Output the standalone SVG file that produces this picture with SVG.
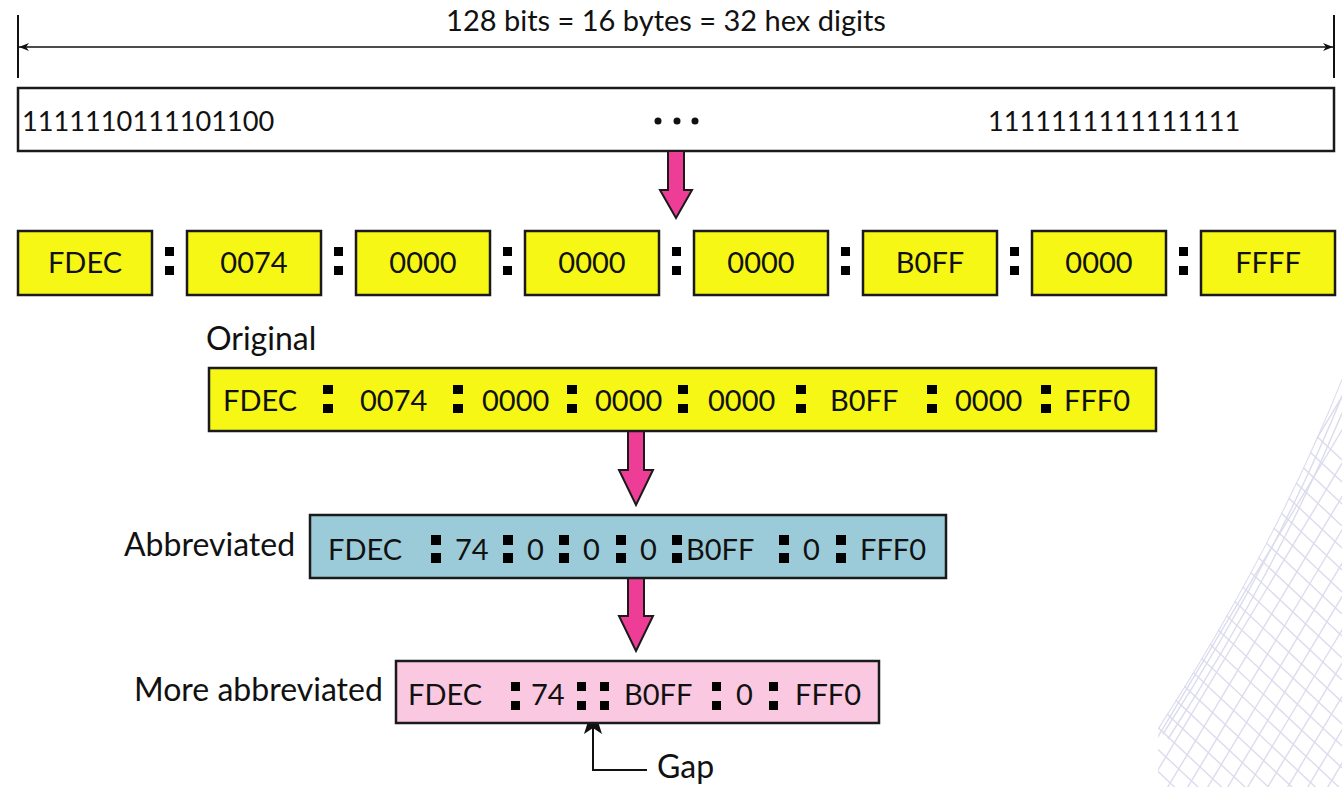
<svg xmlns="http://www.w3.org/2000/svg" width="1342" height="787" viewBox="0 0 1342 787">
<defs>
<style>
.t{font-family:Lato,"Liberation Sans",sans-serif;font-size:29px;fill:#111}
.l{font-size:32px}
.d{font-size:27.2px}
.c{text-anchor:middle}
.box{stroke:#1a1a1a;stroke-width:2.5}
.y{fill:#f7f716}
.b{fill:#9bcbd8}
.p{fill:#fbc8e2}
.arr{fill:#ee3d96;stroke:#1a1a1a;stroke-width:2}
.mesh line,.mesh path{stroke:#dcdcee;stroke-width:1.4;fill:none}
.col{fill:#000}
</style>
<marker id="ah" viewBox="0 0 10 10" refX="10" refY="5" markerWidth="10" markerHeight="10" markerUnits="userSpaceOnUse" orient="auto-start-reverse">
<path d="M0,1 L10,5 L0,9 L3,5 Z" fill="#111"/>
</marker>
<clipPath id="mc"><path d="M1158,787 L1158,728 C1215,640 1285,520 1342,378 L1342,787 Z"/></clipPath>
</defs>
<rect width="1342" height="787" fill="#fff"/>
<g id="mesh" class="mesh" clip-path="url(#mc)">
<line x1="1000" y1="800" x2="1300" y2="300"/><line x1="1020" y1="800" x2="1320" y2="300"/><line x1="1040" y1="800" x2="1340" y2="300"/><line x1="1060" y1="800" x2="1360" y2="300"/><line x1="1080" y1="800" x2="1380" y2="300"/><line x1="1100" y1="800" x2="1400" y2="300"/><line x1="1120" y1="800" x2="1420" y2="300"/><line x1="1140" y1="800" x2="1440" y2="300"/><line x1="1160" y1="800" x2="1460" y2="300"/><line x1="1180" y1="800" x2="1480" y2="300"/><line x1="1200" y1="800" x2="1500" y2="300"/><line x1="1220" y1="800" x2="1520" y2="300"/><line x1="1240" y1="800" x2="1540" y2="300"/><line x1="1260" y1="800" x2="1560" y2="300"/><line x1="1280" y1="800" x2="1580" y2="300"/><line x1="1300" y1="800" x2="1600" y2="300"/><line x1="1320" y1="800" x2="1620" y2="300"/>
<line x1="1150" y1="280" x2="1342" y2="460"/><line x1="1150" y1="302" x2="1342" y2="482"/><line x1="1150" y1="324" x2="1342" y2="504"/><line x1="1150" y1="346" x2="1342" y2="526"/><line x1="1150" y1="368" x2="1342" y2="548"/><line x1="1150" y1="390" x2="1342" y2="570"/><line x1="1150" y1="412" x2="1342" y2="592"/><line x1="1150" y1="434" x2="1342" y2="614"/><line x1="1150" y1="456" x2="1342" y2="636"/><line x1="1150" y1="478" x2="1342" y2="658"/><line x1="1150" y1="500" x2="1342" y2="680"/><line x1="1150" y1="522" x2="1342" y2="702"/><line x1="1150" y1="544" x2="1342" y2="724"/><line x1="1150" y1="566" x2="1342" y2="746"/><line x1="1150" y1="588" x2="1342" y2="768"/><line x1="1150" y1="610" x2="1342" y2="790"/><line x1="1150" y1="632" x2="1342" y2="812"/><line x1="1150" y1="654" x2="1342" y2="834"/><line x1="1150" y1="676" x2="1342" y2="856"/><line x1="1150" y1="698" x2="1342" y2="878"/><line x1="1150" y1="720" x2="1342" y2="900"/><line x1="1150" y1="742" x2="1342" y2="922"/><line x1="1150" y1="764" x2="1342" y2="944"/>
<path d="M1158,729 C1215,641 1285,521 1342,379"/>
<path d="M1163,734 C1220,646 1290,526 1347,384"/>
<path d="M1168,739 C1225,651 1295,531 1352,389"/>
</g>
<g id="dimension">
<line x1="18" y1="15" x2="18" y2="78" stroke="#111" stroke-width="2"/>
<line x1="1334" y1="15" x2="1334" y2="78" stroke="#111" stroke-width="2"/>
<line x1="19" y1="47" x2="1333" y2="47" stroke="#111" stroke-width="1.5" marker-start="url(#ah)" marker-end="url(#ah)"/>
<text class="t c" x="666" y="31">128 bits = 16 bytes = 32 hex digits</text>
</g>
<g id="bits">
<rect x="18" y="88" width="1316" height="63" fill="#fff" class="box"/>
<text class="t d" x="22" y="131">1111110111101100</text>
<circle cx="658" cy="121" r="3.5" fill="#111"/><circle cx="677" cy="121" r="3.5" fill="#111"/><circle cx="695" cy="121" r="3.5" fill="#111"/>
<text class="t d" x="988" y="131">1111111111111111</text>
</g>
<g id="connectors">
<path class="arr" d="M668,151 L684,151 L684,190 L692,190 L676,218 L660,190 L668,190 Z"/>
<path class="arr" d="M628,431 L644,431 L644,470 L653,470 L636,505 L619,470 L628,470 Z"/>
<path class="arr" d="M628,578 L644,578 L644,616 L653,616 L636,651 L619,616 L628,616 Z"/>
<path d="M647,770 L593,770 L593,726" fill="none" stroke="#111" stroke-width="2"/>
<path d="M593,706 L602,734 L593,728 L584,734 Z" fill="#111"/>
</g>
<g id="groups">
<rect x="18" y="231" width="134" height="64" class="box y"/><text class="t c" x="85" y="273">FDEC</text>
<rect x="187" y="231" width="134" height="64" class="box y"/><text class="t c" x="254" y="273">0074</text>
<rect x="356" y="231" width="134" height="64" class="box y"/><text class="t c" x="423" y="273">0000</text>
<rect x="525" y="231" width="134" height="64" class="box y"/><text class="t c" x="592" y="273">0000</text>
<rect x="694" y="231" width="134" height="64" class="box y"/><text class="t c" x="761" y="273">0000</text>
<rect x="863" y="231" width="134" height="64" class="box y"/><text class="t c" x="930" y="273">B0FF</text>
<rect x="1032" y="231" width="134" height="64" class="box y"/><text class="t c" x="1099" y="273">0000</text>
<rect x="1201" y="231" width="134" height="64" class="box y"/><text class="t c" x="1268" y="273">FFFF</text>
<g class="col">
<rect x="165" y="247" width="9" height="9"/><rect x="165" y="266" width="9" height="9"/>
<rect x="334" y="247" width="9" height="9"/><rect x="334" y="266" width="9" height="9"/>
<rect x="503" y="247" width="9" height="9"/><rect x="503" y="266" width="9" height="9"/>
<rect x="672" y="247" width="9" height="9"/><rect x="672" y="266" width="9" height="9"/>
<rect x="841" y="247" width="9" height="9"/><rect x="841" y="266" width="9" height="9"/>
<rect x="1010" y="247" width="9" height="9"/><rect x="1010" y="266" width="9" height="9"/>
<rect x="1179" y="247" width="9" height="9"/><rect x="1179" y="266" width="9" height="9"/>
</g>
</g>
<g id="original">
<text class="t l" x="206" y="350">Original</text>
<rect x="209" y="368" width="947" height="63" class="box y"/>
<text class="t" x="223" y="411">FDEC</text><text class="t" x="360" y="411">0074</text><text class="t" x="482" y="411">0000</text><text class="t" x="595" y="411">0000</text><text class="t" x="708" y="411">0000</text><text class="t" x="830" y="411">B0FF</text><text class="t" x="955" y="411">0000</text><text class="t" x="1064" y="411">FFF0</text>
<g class="col">
<rect x="323" y="385" width="10" height="9"/><rect x="323" y="404" width="10" height="9"/>
<rect x="453" y="385" width="10" height="9"/><rect x="453" y="404" width="10" height="9"/>
<rect x="567" y="385" width="10" height="9"/><rect x="567" y="404" width="10" height="9"/>
<rect x="678" y="385" width="10" height="9"/><rect x="678" y="404" width="10" height="9"/>
<rect x="796" y="385" width="10" height="9"/><rect x="796" y="404" width="10" height="9"/>
<rect x="927" y="385" width="10" height="9"/><rect x="927" y="404" width="10" height="9"/>
<rect x="1041" y="385" width="10" height="9"/><rect x="1041" y="404" width="10" height="9"/>
</g>
</g>
<g id="abbreviated">
<text class="t l" x="124" y="556">Abbreviated</text>
<rect x="310" y="515" width="636" height="63" class="box b"/>
<text class="t" x="328" y="560">FDEC</text><text class="t" x="455" y="560">74</text><text class="t" x="527" y="560">0</text><text class="t" x="583" y="560">0</text><text class="t" x="640" y="560">0</text><text class="t" x="686" y="560">B0FF</text><text class="t" x="803" y="560">0</text><text class="t" x="860" y="560">FFF0</text>
<g class="col">
<rect x="431" y="535" width="10" height="10"/><rect x="431" y="553" width="10" height="10"/>
<rect x="503" y="535" width="10" height="10"/><rect x="503" y="553" width="10" height="10"/>
<rect x="559" y="535" width="10" height="10"/><rect x="559" y="553" width="10" height="10"/>
<rect x="616" y="535" width="10" height="10"/><rect x="616" y="553" width="10" height="10"/>
<rect x="672" y="535" width="10" height="10"/><rect x="672" y="553" width="10" height="10"/>
<rect x="779" y="535" width="10" height="10"/><rect x="779" y="553" width="10" height="10"/>
<rect x="836" y="535" width="10" height="10"/><rect x="836" y="553" width="10" height="10"/>
</g>
</g>
<g id="more-abbreviated">
<text class="t l" x="134" y="701">More abbreviated</text>
<rect x="396" y="661" width="483" height="62" class="box p"/>
<text class="t" x="408" y="705">FDEC</text><text class="t" x="531" y="705">74</text><text class="t" x="624" y="705">B0FF</text><text class="t" x="736" y="705">0</text><text class="t" x="795" y="705">FFF0</text>
<g class="col">
<rect x="511" y="682" width="9" height="9"/><rect x="511" y="701" width="9" height="9"/>
<rect x="577" y="682" width="9" height="9"/><rect x="577" y="701" width="9" height="9"/>
<rect x="600" y="682" width="9" height="9"/><rect x="600" y="701" width="9" height="9"/>
<rect x="712" y="682" width="9" height="9"/><rect x="712" y="701" width="9" height="9"/>
<rect x="769" y="682" width="9" height="9"/><rect x="769" y="701" width="9" height="9"/>
</g>
</g>
<g id="gap-label">
<text class="t l" x="657" y="778">Gap</text>
</g>
</svg>
